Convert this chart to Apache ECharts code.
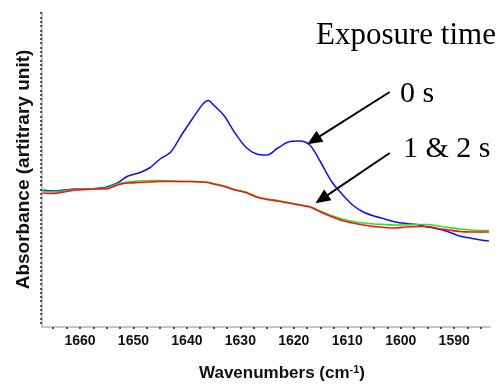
<!DOCTYPE html>
<html>
<head>
<meta charset="utf-8">
<script src="https://cdn.jsdelivr.net/npm/echarts@6/dist/echarts.min.js"></script>
<style>html,body{margin:0;padding:0;background:#fff}#c{width:503px;height:392px}</style>
</head>
<body>
<div id="c"></div>
<script>
// Wavenumbers (cm-1), x axis reversed
const wavenumbers = [1667,1665,1663,1661,1659,1657,1655,1653,1651,1649,1647,1645,1643,1641,1639,1637,1636,1635,1633,1631,1629,1627,1625,1623,1621,1619,1617,1615,1613,1611,1609,1607,1605,1603,1601,1599,1597,1595,1593,1591,1589,1587,1585,1583.5];
// Exposure 0 s (blue)
const abs0s = [0.137,0.136,0.137,0.138,0.138,0.1385,0.140,0.144,0.151,0.154,0.159,0.168,0.175,0.192,0.208,0.223,0.2265,0.222,0.211,0.194,0.180,0.173,0.172,0.179,0.185,0.186,0.182,0.165,0.146,0.133,0.122,0.115,0.111,0.108,0.105,0.1035,0.1025,0.100,0.098,0.095,0.091,0.089,0.087,0.086];
// Exposure 1 s (green)
const abs1s = [0.136,0.135,0.136,0.1375,0.138,0.1385,0.139,0.143,0.145,0.146,0.1465,0.1465,0.146,0.1455,0.1455,0.145,0.1445,0.1435,0.141,0.1375,0.135,0.1305,0.128,0.1265,0.1245,0.1225,0.1205,0.116,0.1115,0.108,0.1055,0.104,0.103,0.1025,0.102,0.102,0.1025,0.1025,0.101,0.0995,0.098,0.097,0.0965,0.0965];
// Exposure 2 s (red)
const abs2s = [0.134,0.1335,0.135,0.137,0.1375,0.138,0.138,0.142,0.144,0.1445,0.145,0.1455,0.1455,0.1455,0.1455,0.145,0.1445,0.143,0.1405,0.137,0.1345,0.130,0.1275,0.126,0.124,0.122,0.120,0.115,0.1105,0.1065,0.104,0.102,0.1005,0.0995,0.099,0.100,0.1005,0.1005,0.0985,0.097,0.0955,0.095,0.095,0.095];

const xLabels = [1660,1650,1640,1630,1620,1610,1600,1590];
const xMin = 1583.3, xMax = 1667.1;
const yMin = 0, yMax = 0.315;

// annotation arrows (data coordinates): [start, end]
const arrow0s = [[1602.06, 0.235], [1616.28, 0.1868]];
const arrow12s = [[1602.06, 0.174], [1614.80, 0.1279]];

const xTicks = [];
for (let v = 1665; v >= 1584; v -= 2.5) xTicks.push(v);
const yTicks = [];
for (let v = 0.0043; v < yMax; v += 0.0043) yTicks.push(+v.toFixed(4));

const pair = a => a.map((v,i)=>[wavenumbers[i], v]);
const sans = "'Liberation Sans', Arial, sans-serif";
const serif = "'Liberation Serif', 'Times New Roman', serif";

const chart = echarts.init(document.getElementById('c'), null, {renderer:'canvas'});
chart.setOption({
  animation: false,
  backgroundColor: '#fff',
  grid: {left: 42, right: 13, top: 12, bottom: 65},
  xAxis: {
    type: 'value', inverse: true, min: xMin, max: xMax,
    axisLine: {show: true, onZero: false, lineStyle: {color: '#c4c4c4', width: 2}},
    axisTick: {show: true, customValues: xTicks, length: 2, lineStyle: {color: '#222', width: 1.5}},
    axisLabel: {show: true, customValues: xLabels, formatter: v => String(v), margin: 7, fontFamily: sans, fontWeight: 'bold', fontSize: 14, color: '#111'},
    splitLine: {show: false},
    name: '{a|Wavenumbers (cm}{s|-1}{a|)}',
    nameLocation: 'middle', nameGap: 37,
    nameTextStyle: {
      padding: [0,0,0,32],
      rich: {
        a: {fontFamily: sans, fontWeight: 'bold', fontSize: 17, color: '#111'},
        s: {fontFamily: sans, fontWeight: 'bold', fontSize: 11, color: '#111', verticalAlign: 'top', padding: [0,0,8,0]}
      }
    }
  },
  yAxis: {
    type: 'value', min: yMin, max: yMax,
    axisLine: {show: true, onZero: false, lineStyle: {color: '#c4c4c4', width: 2}},
    axisTick: {show: true, customValues: yTicks, length: 2, lineStyle: {color: '#222', width: 1.5}},
    axisLabel: {show: false},
    splitLine: {show: false},
    name: 'Absorbance (artitrary unit)',
    nameLocation: 'middle', nameGap: 9,
    nameTextStyle: {fontFamily: sans, fontWeight: 'bold', fontSize: 19, color: '#111'}
  },
  series: [
    {
      name: '0 s', type: 'line', data: pair(abs0s), showSymbol: false, smooth: 0.3,
      lineStyle: {color: '#1010ff', width: 1.5}, z: 2,
      markLine: {
        silent: true, animation: false,
        symbol: ['none', 'triangle'], symbolSize: [13, 15],
        lineStyle: {color: '#000', width: 2, type: 'solid'},
        label: {show: false},
        data: [
          [{coord: arrow0s[0]}, {coord: arrow0s[1]}],
          [{coord: arrow12s[0]}, {coord: arrow12s[1]}]
        ]
      }
    },
    {name: '1 s', type: 'line', data: pair(abs1s), showSymbol: false, smooth: 0.2, lineStyle: {color: '#22e622', width: 1.6}, z: 3},
    {name: '2 s', type: 'line', data: pair(abs2s), showSymbol: false, smooth: 0.2, lineStyle: {color: '#ff1010', width: 1.6}, z: 4}
  ],
  graphic: [
    {type: 'text', left: 316, top: 20, style: {text: 'Exposure time', font: '31px ' + serif, fill: '#000'}},
    {type: 'text', left: 400, top: 79, style: {text: '0 s', font: '30px ' + serif, fill: '#000'}},
    {type: 'text', left: 403, top: 134, style: {text: '1 & 2 s', font: '30px ' + serif, fill: '#000'}}
  ]
});
</script>
</body>
</html>
